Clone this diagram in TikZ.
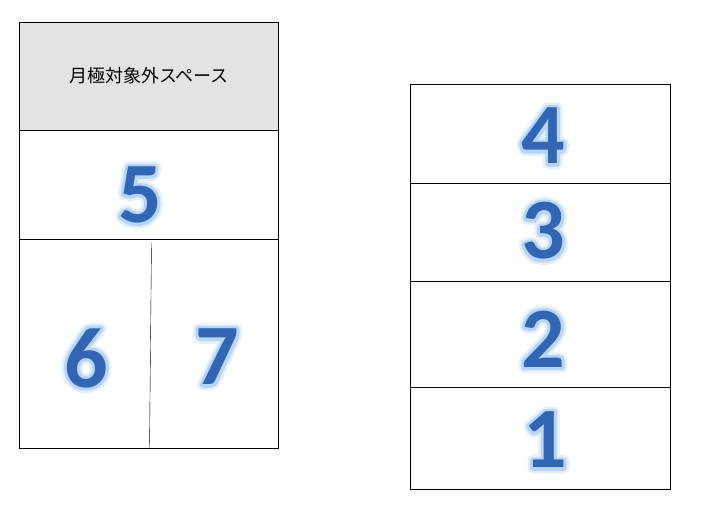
\documentclass[tikz,border=0pt]{standalone}
\usepackage{fontspec}
\setmainfont{Carlito}
\newfontfamily\jpfont{Noto Sans CJK JP}

\definecolor{numblue}{RGB}{50,102,180}
\definecolor{glowin}{RGB}{184,213,246}
\definecolor{glowout}{RGB}{228,239,252}
\definecolor{spacegray}{RGB}{227,227,227}

% outlined copy of a text, stroke width #1
\newcommand{\strokedtext}[2]{%
    \special{pdf:literal direct 2 Tr #1 w 1 j}#2%
    \special{pdf:literal direct 0 Tr 0.4 w 0 j}}

% space number with a soft light glow behind it
\newcommand{\glownum}[1]{%
    \rlap{\color{glowout}\strokedtext{11}{#1}}%
    \rlap{\color{glowin}\strokedtext{6}{#1}}%
    {\color{numblue}#1}}

\tikzset{
    num/.style={font=\bfseries\fontsize{86}{86}\selectfont, inner sep=0pt},
    label/.style={font=\jpfont\fontsize{18}{18}\selectfont, inner sep=0pt}
}

\begin{document}
\begin{tikzpicture}[x=1pt,y=-1pt]
    % Fix the page size
    \useasboundingbox (0,0) rectangle (719,525);

    % Left block: space outside the monthly contract
    \draw[fill=spacegray] (19.5,22) rectangle (278,130.5);
    \node[label] (excl) at (149,76) {月極対象外スペース};

    % Left block: spaces 5, 6, 7
    \draw (19.5,130.5) rectangle (278,448);
    \draw (19.5,239.5) -- (278,239.5);
    \draw (151.5,243) -- (149.5,448);

    % Right block: spaces 1 to 4
    \draw (410,84) rectangle (670,489);
    \foreach \y in {183.5,281,387} {
        \draw (410,\y) -- (670,\y);
    }

    % Space numbers
    \foreach \n/\x/\y in {1/545/440, 2/543/339, 3/543/231, 4/543/136,
                          5/140/195, 6/86/358, 7/217/357} {
        \node[num] (n\n) at (\x,\y) {\glownum{\n}};
    }
\end{tikzpicture}
\end{document}
